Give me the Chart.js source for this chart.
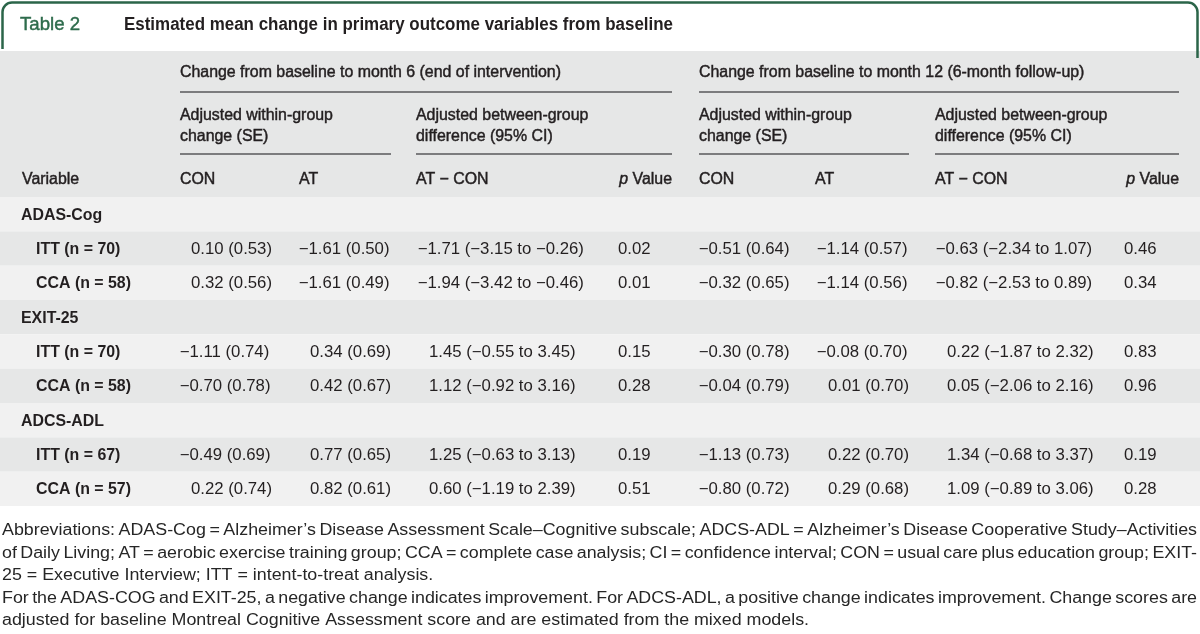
<!DOCTYPE html>
<html><head><meta charset="utf-8">
<script src="https://cdn.jsdelivr.net/npm/chart.js@4.4.1/dist/chart.umd.min.js"></script>
<style>html,body{margin:0;padding:0;background:#fff;overflow:hidden}canvas{display:block}</style>
</head><body>
<canvas id="c" width="1200" height="634"></canvas>
<script>
// ---------- DATA ----------
const rowLabels = ['ADAS-Cog','ITT (n = 70)','CCA (n = 58)','EXIT-25','ITT (n = 70)','CCA (n = 58)','ADCS-ADL','ITT (n = 67)','CCA (n = 57)'];
const rowIsSection = [true,false,false,true,false,false,true,false,false];

const m6ConEst  = [null, 0.10, 0.32, null, -1.11, -0.70, null, -0.49, 0.22];
const m6ConSE   = [null, 0.53, 0.56, null,  0.74,  0.78, null,  0.69, 0.74];
const m6AtEst   = [null,-1.61,-1.61, null,  0.34,  0.42, null,  0.77, 0.82];
const m6AtSE    = [null, 0.50, 0.49, null,  0.69,  0.67, null,  0.65, 0.61];
const m6Diff    = [null,-1.71,-1.94, null,  1.45,  1.12, null,  1.25, 0.60];
const m6DiffLo  = [null,-3.15,-3.42, null, -0.55, -0.92, null, -0.63,-1.19];
const m6DiffHi  = [null,-0.26,-0.46, null,  3.45,  3.16, null,  3.13, 2.39];
const m6P       = [null, 0.02, 0.01, null,  0.15,  0.28, null,  0.19, 0.51];

const m12ConEst = [null,-0.51,-0.32, null, -0.30, -0.04, null, -1.13,-0.80];
const m12ConSE  = [null, 0.64, 0.65, null,  0.78,  0.79, null,  0.73, 0.72];
const m12AtEst  = [null,-1.14,-1.14, null, -0.08,  0.01, null,  0.22, 0.29];
const m12AtSE   = [null, 0.57, 0.56, null,  0.70,  0.70, null,  0.70, 0.68];
const m12Diff   = [null,-0.63,-0.82, null,  0.22,  0.05, null,  1.34, 1.09];
const m12DiffLo = [null,-2.34,-2.53, null, -1.87, -2.06, null, -0.68,-0.89];
const m12DiffHi = [null, 1.07, 0.89, null,  2.32,  2.16, null,  3.37, 3.06];
const m12P      = [null, 0.46, 0.34, null,  0.83,  0.96, null,  0.19, 0.28];

const titleLabel = 'Table 2';
const titleText = 'Estimated mean change in primary outcome variables from baseline';
const groupHeaders = ['Change from baseline to month 6 (end of intervention)','Change from baseline to month 12 (6-month follow-up)'];
const subHeaders = [['Adjusted within-group','change (SE)'],['Adjusted between-group','difference (95% CI)']];
const colHeaders = ['Variable','CON','AT','AT \u2212 CON','p Value','CON','AT','AT \u2212 CON','p Value'];
const footLines = [
 'Abbreviations: ADAS-Cog = Alzheimer\u2019s Disease Assessment Scale\u2013Cognitive subscale; ADCS-ADL = Alzheimer\u2019s Disease Cooperative Study\u2013Activities',
 'of Daily Living; AT = aerobic exercise training group; CCA = complete case analysis; CI = confidence interval; CON = usual care plus education group; EXIT-',
 '25 = Executive Interview; ITT = intent-to-treat analysis.',
 'For the ADAS-COG and EXIT-25, a negative change indicates improvement. For ADCS-ADL, a positive change indicates improvement. Change scores are',
 'adjusted for baseline Montreal Cognitive Assessment score and are estimated from the mixed models.'
];
const footJustify = [true,true,false,true,false];

// ---------- helpers ----------
const MINUS = '\u2212';
const f2 = v => (v < 0 ? MINUS : '') + Math.abs(v).toFixed(2);
const seText = (e, s) => i => e[i] == null ? null : `${f2(e[i])} (${f2(s[i])})`;
const ciText = (d, lo, hi) => i => d[i] == null ? null : `${f2(d[i])} (${f2(lo[i])} to ${f2(hi[i])})`;
const pText = p => i => p[i] == null ? null : p[i].toFixed(2);

const FAM = '"Liberation Sans", Arial, Helvetica, sans-serif';
const mctx = document.createElement('canvas').getContext('2d');
// font style with horizontal compression fitted to a reference width
function style(weight, size, sample, target, stroke){
  const font = `${weight} ${size}px ${FAM}`;
  mctx.font = font;
  const sx = target ? target / mctx.measureText(sample).width : 1;
  return { font, sx, stroke: stroke || 0 };
}
const S = {
  tab:   style('normal', 18.5, 'Table 2', 60, 0.45),
  title: style('bold', 17.5, titleText, 549, 0),
  head:  style('normal', 16, groupHeaders[0], 381, 0.45),
  label: style('bold', 16, 'CCA (n = 57)', 95, 0),
  val:   style('normal', 16, '0.10 (0.53)', 81, 0),
  foot:  style('normal', 16, footLines[4], 807, 0)
};
function draw(ctx, st, text, x, y, align){
  ctx.save();
  ctx.font = st.font; ctx.textBaseline = 'middle'; ctx.textAlign = 'left';
  const w = ctx.measureText(text).width * st.sx;
  const xl = align === 'right' ? x - w : x;
  ctx.translate(xl, y); ctx.scale(st.sx, 1);
  ctx.fillText(text, 0, 0);
  if (st.stroke) { ctx.lineWidth = st.stroke; ctx.strokeStyle = ctx.fillStyle; ctx.strokeText(text, 0, 0); }
  ctx.restore();
  return w;
}
function width(ctx, st, text){ ctx.save(); ctx.font = st.font; const w = ctx.measureText(text).width * st.sx; ctx.restore(); return w; }

// columns: x anchor = start of first digit (decimal alignment, minus sign hangs left)
const columns = [
  { x: 191,  text: seText(m6ConEst, m6ConSE) },
  { x: 310,  text: seText(m6AtEst, m6AtSE) },
  { x: 429,  text: ciText(m6Diff, m6DiffLo, m6DiffHi) },
  { x: 618,  text: pText(m6P) },
  { x: 710,  text: seText(m12ConEst, m12ConSE) },
  { x: 828,  text: seText(m12AtEst, m12AtSE) },
  { x: 947,  text: ciText(m12Diff, m12DiffLo, m12DiffHi) },
  { x: 1124, text: pText(m12P) }
];

const datasets = [];
datasets.push({ label: 'rows', kind: 'label', data: rowLabels.map((l, i) => ({ x: rowIsSection[i] ? 21 : 36, y: i, t: l })) });
columns.forEach((c, ci) => {
  const d = [];
  rowLabels.forEach((_, i) => { const t = c.text(i); if (t != null) d.push({ x: c.x, y: i, t }); });
  datasets.push({ label: 'col' + ci, kind: 'value', data: d });
});

const TEXT = '#231f20';
const BAND_LIGHT = '#f1f1f1', BAND_DARK = '#e6e7e7', HEAD_BG = '#e6e7e7';

const tablePlugin = {
  id: 'table',
  beforeDraw(chart){
    const ctx = chart.ctx, y = chart.scales.y, W = chart.width;
    ctx.save();
    ctx.fillStyle = '#fff'; ctx.fillRect(0, 0, W, chart.height);
    const top = y.getPixelForValue(-0.5);
    ctx.fillStyle = HEAD_BG; ctx.fillRect(0, 51, W, top - 51);
    rowLabels.forEach((_, i) => {
      const a = y.getPixelForValue(i - 0.5), b = y.getPixelForValue(i + 0.5);
      ctx.fillStyle = i % 2 ? BAND_DARK : BAND_LIGHT;
      ctx.fillRect(0, a, W, b - a);
    });
    ctx.strokeStyle = '#2b6549'; ctx.lineWidth = 2.5;
    ctx.beginPath();
    ctx.moveTo(2.5, 49); ctx.lineTo(2.5, 12); ctx.arcTo(2.5, 2.5, 12, 2.5, 9.5);
    ctx.lineTo(1188, 2.5); ctx.arcTo(1197.5, 2.5, 1197.5, 12, 9.5); ctx.lineTo(1197.5, 58);
    ctx.stroke();
    ctx.restore();
  },
  afterDatasetsDraw(chart){
    const ctx = chart.ctx;
    ctx.save();
    ctx.fillStyle = TEXT;
    chart.data.datasets.forEach((ds, di) => {
      const meta = chart.getDatasetMeta(di);
      ds.data.forEach((p, j) => {
        const el = meta.data[j];
        if (ds.kind === 'label') {
          draw(ctx, S.label, p.t, el.x, el.y + 1);
        } else {
          const off = p.t.startsWith(MINUS) ? width(ctx, S.val, MINUS) + 1.5 : 0;
          draw(ctx, S.val, p.t, el.x - off, el.y + 1);
        }
      });
    });
    ctx.restore();
  },
  afterDraw(chart){
    const ctx = chart.ctx;
    ctx.save();
    ctx.fillStyle = '#2e6c4c'; draw(ctx, S.tab, titleLabel, 20, 25);
    ctx.fillStyle = TEXT; draw(ctx, S.title, titleText, 124, 25);
    draw(ctx, S.head, groupHeaders[0], 180, 73);
    draw(ctx, S.head, groupHeaders[1], 699, 73);
    [[180,416],[699,935]].forEach(([a,b]) => {
      draw(ctx, S.head, subHeaders[0][0], a, 116); draw(ctx, S.head, subHeaders[0][1], a, 137);
      draw(ctx, S.head, subHeaders[1][0], b, 116); draw(ctx, S.head, subHeaders[1][1], b, 137);
    });
    ctx.strokeStyle = '#58595b'; ctx.lineWidth = 1.5;
    const hl = (x1, x2, yy) => { ctx.beginPath(); ctx.moveTo(x1, yy); ctx.lineTo(x2, yy); ctx.stroke(); };
    hl(180, 672, 92); hl(699, 1179, 92);
    hl(180, 391, 154); hl(416, 672, 154); hl(699, 909, 154); hl(935, 1179, 154);
    const hx = [22, 180, 299, 416, null, 699, 815, 935, null];
    const italHead = Object.assign({}, S.head, { font: 'italic ' + S.head.font });
    colHeaders.forEach((h, i) => {
      if (hx[i] != null) { draw(ctx, S.head, h, hx[i], 180); return; }
      const right = i === 4 ? 672 : 1179;
      const rest = h.slice(1);
      const wRest = draw(ctx, S.head, rest, right, 180, 'right');
      draw(ctx, italHead, 'p', right - wRest, 180, 'right');
    });
    // footnotes
    ctx.fillStyle = '#262626';
    const x0 = 2, x1 = 1197;
    footLines.forEach((line, i) => {
      const yy = 531 + i * 22.5;
      if (!footJustify[i]) { draw(ctx, S.foot, line, x0, yy); return; }
      const words = line.split(' ');
      const ws = words.map(w => width(ctx, S.foot, w));
      const sum = ws.reduce((a, b) => a + b, 0);
      const gap = (x1 - x0 - sum) / (words.length - 1);
      let x = x0;
      words.forEach((w, k) => { draw(ctx, S.foot, w, x, yy); x += ws[k] + gap; });
    });
    ctx.restore();
  }
};

new Chart(document.getElementById('c'), {
  type: 'scatter',
  data: { datasets },
  options: {
    responsive: false, animation: false, devicePixelRatio: 1, events: [],
    layout: { padding: { top: 197, bottom: 128, left: 0, right: 0 } },
    elements: { point: { radius: 0, hoverRadius: 0 } },
    scales: {
      x: { type: 'linear', min: 0, max: 1200, display: false },
      y: { type: 'linear', min: -0.5, max: 8.5, reverse: true, display: false }
    },
    plugins: { legend: { display: false }, tooltip: { enabled: false } }
  },
  plugins: [tablePlugin]
});
</script>
</body></html>
